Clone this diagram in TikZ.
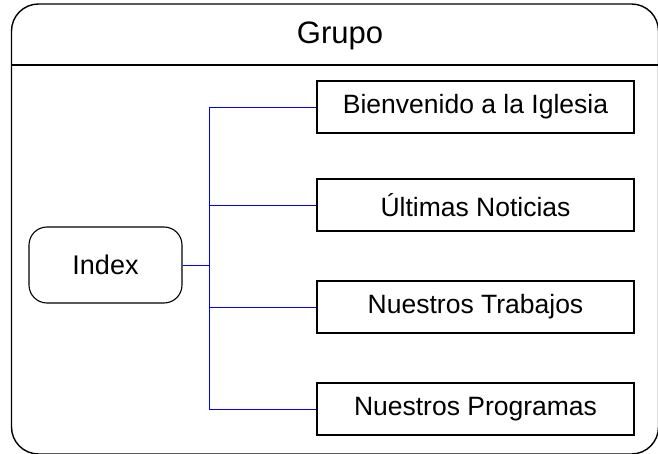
\documentclass[tikz,border=0pt]{standalone}
\usepackage{fontspec}
\setmainfont{Liberation Sans}
\usepackage{tikz}
\usetikzlibrary{positioning,calc}

\begin{document}
\begin{tikzpicture}[x=1pt,y=-1pt,
        FrameStyle/.style = { rectangle, rounded corners=27pt, draw,
          line width=1.4pt, minimum width=647pt, minimum height=450pt },
        PageStyle/.style = { rectangle, draw, line width=1.1pt,
          minimum width=317pt, minimum height=52pt,
          font=\fontsize{26.5}{30}\selectfont },
        HomeStyle/.style = { rectangle, rounded corners=18pt, draw,
          line width=1.1pt, minimum width=153pt, minimum height=76pt,
          font=\fontsize{27}{30}\selectfont },
        LinkStyle/.style = { draw=blue, line width=0.8pt }
      ]
      \useasboundingbox (0,0) rectangle (658,454);
      % marco del grupo
      \node[FrameStyle] (grupo) at (335,229) {};
      \node[font=\fontsize{31}{36}\selectfont] (titulo) at (340,36) {Grupo};
      \draw[line width=1.4pt] (grupo.west |- 0,65) -- (grupo.east |- 0,65);
      % paginas
      \node[HomeStyle] (index) at (105.5,265) {Index};
      \node[PageStyle] (bienvenido) at (475.5,107) {Bienvenido a la Iglesia};
      \node[PageStyle] (noticias) at (475.5,205) {Últimas Noticias};
      \node[PageStyle] (trabajos) at (475.5,307) {Nuestros Trabajos};
      \node[PageStyle] (programas) at (475.5,409) {Nuestros Programas};
      % enlaces
      \coordinate (bus) at (209,265);
      \draw[LinkStyle] (index.east) -- (bus);
      \draw[LinkStyle] (bus |- bienvenido.west) -- (bus |- programas.west);
      \foreach \p in {bienvenido,noticias,trabajos,programas}
        \draw[LinkStyle] (bus |- \p.west) -- (\p.west);
    \end{tikzpicture}
\end{document}
